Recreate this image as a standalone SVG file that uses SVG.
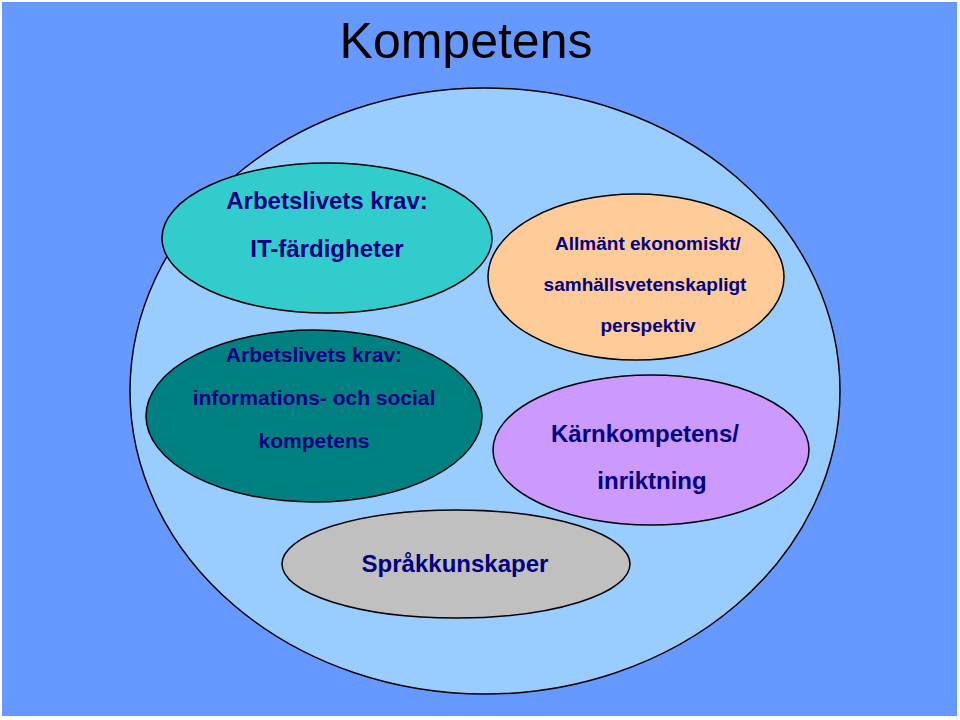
<svg xmlns="http://www.w3.org/2000/svg" width="960" height="720" viewBox="0 0 960 720">
<style>
.e{stroke:#000;stroke-width:1.5}
.t{font-family:"Liberation Sans",Arial,sans-serif;font-weight:bold;fill:#000080;text-anchor:middle}
</style>
<rect x="0" y="0" width="960" height="720" fill="#fff"/>
<rect x="2" y="2" width="955" height="714" fill="#6699ff"/>
<text x="466" y="58" font-family="Liberation Sans,Arial,sans-serif" font-size="50" fill="#000" text-anchor="middle">Kompetens</text>
<g id="outer"><ellipse class="e" cx="485" cy="391" rx="355" ry="303" fill="#99ccff"/></g>
<g id="it"><ellipse class="e" cx="327" cy="238" rx="165" ry="75" fill="#33cccc"/>
<text class="t" x="327" y="209" font-size="24">Arbetslivets krav:</text>
<text class="t" x="327" y="257" font-size="24">IT-färdigheter</text></g>
<g id="info"><ellipse class="e" cx="314" cy="416" rx="168" ry="86" fill="#008080"/>
<text class="t" x="314" y="362" font-size="21">Arbetslivets krav:</text>
<text class="t" x="314" y="405" font-size="21">informations- och social</text>
<text class="t" x="314" y="448" font-size="21">kompetens</text></g>
<g id="ekon"><ellipse class="e" cx="636" cy="277" rx="148" ry="83" fill="#ffcc99"/>
<text class="t" x="648" y="250" font-size="19">Allmänt ekonomiskt/</text>
<text class="t" x="645" y="291" font-size="19">samhällsvetenskapligt</text>
<text class="t" x="648" y="332" font-size="19">perspektiv</text></g>
<g id="karn"><ellipse class="e" cx="651" cy="450" rx="158" ry="75" fill="#cc99ff"/>
<text class="t" x="645" y="442" font-size="24">Kärnkompetens/</text>
<text class="t" x="652" y="489" font-size="24">inriktning</text></g>
<g id="sprak"><ellipse class="e" cx="456" cy="564" rx="174" ry="54" fill="#c0c0c0"/>
<text class="t" x="455" y="572" font-size="24">Språkkunskaper</text></g>
<g id="connectors"/>
</svg>
